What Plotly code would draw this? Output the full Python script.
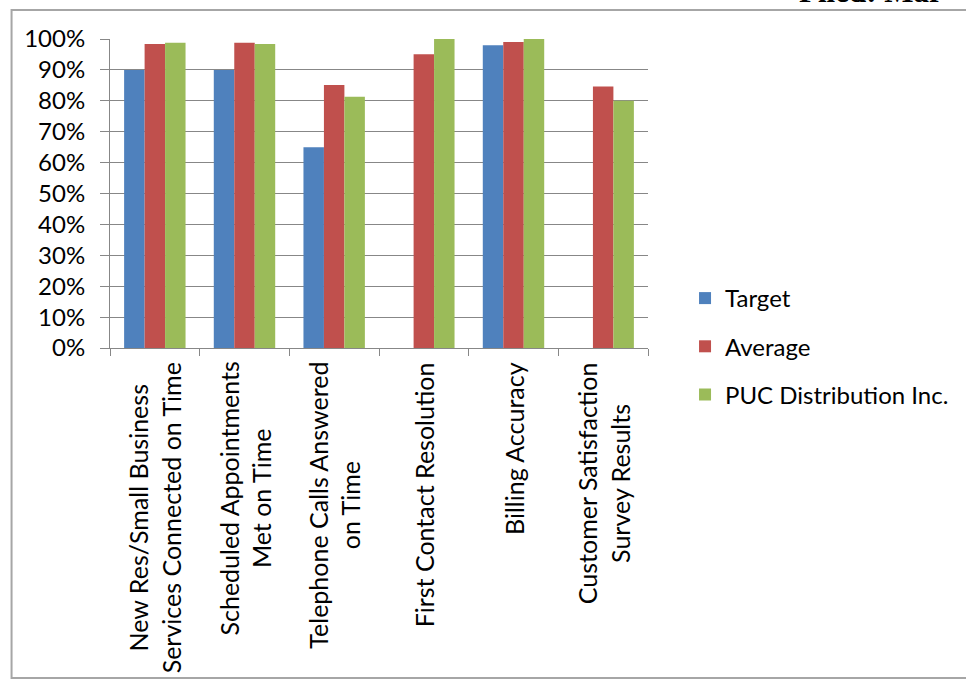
import plotly.graph_objects as go

categories = [
    "New Res/Small Business<br>Services Connected on Time",
    "Scheduled Appointments<br>Met on Time",
    "Telephone Calls Answered<br>on Time",
    "First Contact Resolution",
    "Billing Accuracy",
    "Customer Satisfaction<br>Survey Results",
]
target = [0.90, 0.90, 0.65, None, 0.98, None]
average = [0.984, 0.988, 0.851, 0.951, 0.990, 0.846]
puc = [0.988, 0.984, 0.813, 1.00, 1.00, 0.800]

series_names = ["Target", "Average", "PUC Distribution Inc."]
colors = ["#4F81BD", "#C0504D", "#9BBB59"]
y_ticks = [i / 10 for i in range(11)]

FONT = "Lato"
FS = 24
GRAY = "#878787"

W, H = 966, 682
L, R, T, B = 110, 304, 39, 334
pw, ph = W - L - R, H - T - B

def px_x(px):
    return (px - L) / pw

def px_y(py):
    return (H - B - py) / ph

cat_ids = list(range(len(categories)))

fig = go.Figure()
for name, vals, col in zip(series_names, [target, average, puc], colors):
    fig.add_trace(go.Bar(
        x=cat_ids, y=vals, name=name, marker=dict(color=col, line=dict(width=0)),
        legendgroup=name,
    ))

for i, lab in enumerate(categories):
    fig.add_annotation(
        x=i, xref="x", y=px_y(360), yref="paper",
        text=lab, textangle=-90, showarrow=False,
        xanchor="center", yanchor="top", align="center",
        font=dict(family=FONT, size=25, color="#000000"),
    )

# outer frame
fig.add_shape(type="rect", xref="paper", yref="paper",
              x0=px_x(9), x1=px_x(1010), y0=px_y(678), y1=px_y(10),
              line=dict(color="#A6A6A6", width=2), fillcolor="rgba(0,0,0,0)",
              layer="below")

fig.add_annotation(
    x=px_x(816), xref="paper", y=px_y(10), yref="paper",
    text="<b>Filed: Mar</b>", showarrow=False, xanchor="left", yanchor="bottom",
    borderpad=0,
    font=dict(family="Liberation Serif", size=31, color="#000000"),
)

fig.update_layout(
    width=W, height=H,
    margin=dict(l=L, r=R, t=T, b=B, pad=0),
    paper_bgcolor="white", plot_bgcolor="white",
    barmode="group", bargap=0.315, bargroupgap=0,
    font=dict(family=FONT, size=FS, color="#000000"),
    showlegend=True,
    legend=dict(
        x=px_x(700), y=px_y(276), xanchor="left", yanchor="top",
        traceorder="grouped", tracegroupgap=14,
        font=dict(family=FONT, size=FS, color="#000000"),
        bgcolor="rgba(0,0,0,0)", itemwidth=30,
    ),
    xaxis=dict(
        type="linear", range=[-0.5, len(categories) - 0.5],
        tickvals=[i - 0.5 for i in range(len(categories) + 1)],
        showticklabels=False, ticks="outside", ticklen=7, tickcolor=GRAY, tickwidth=1,
        showline=True, linecolor=GRAY, linewidth=1, showgrid=False, zeroline=False,
    ),
    yaxis=dict(
        range=[0, 1], tickvals=y_ticks, tickformat=".0%",
        ticks="outside", ticklen=9, tickcolor=GRAY, tickwidth=1,
        showline=True, linecolor=GRAY, linewidth=1,
        showgrid=True, gridcolor=GRAY, gridwidth=1, zeroline=False,
        ticklabelstandoff=10,
        tickfont=dict(family=FONT, size=FS, color="#000000"),
    ),
)

fig.write_html("out.html")
